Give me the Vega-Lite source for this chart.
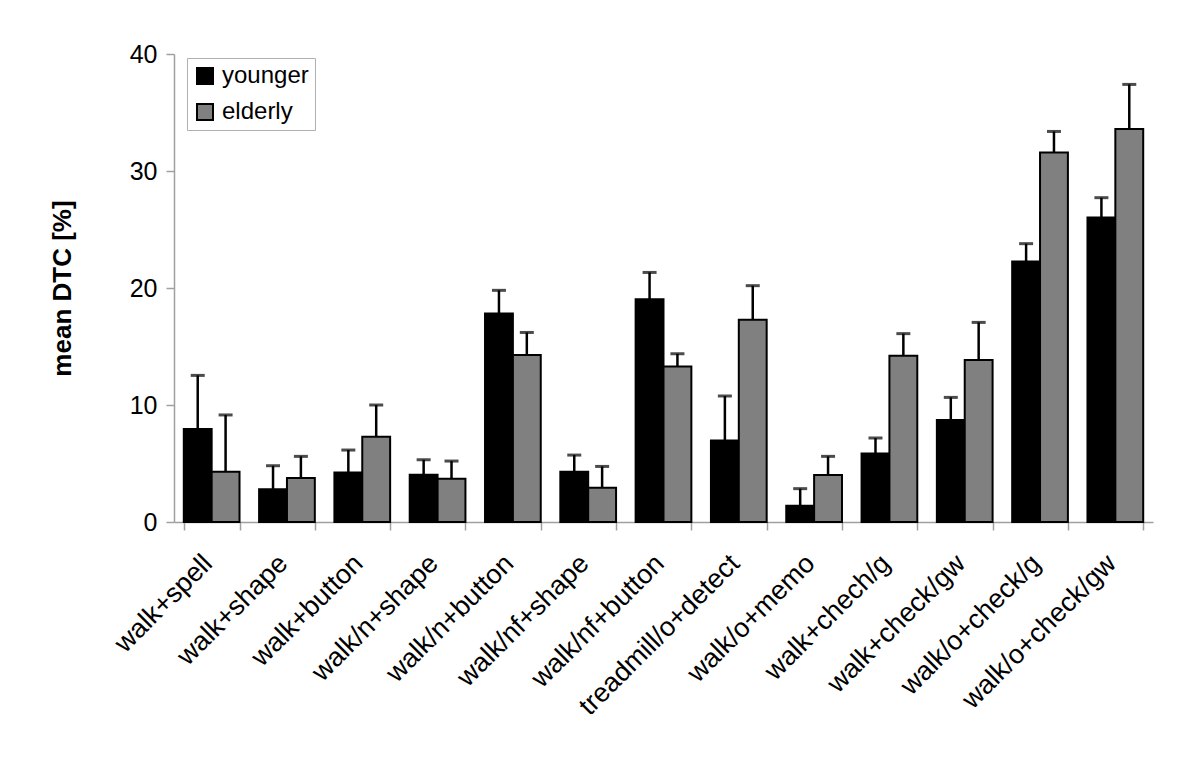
{
  "$schema": "https://vega.github.io/schema/vega-lite/v6.json",
  "width": 979,
  "height": 468,
  "autosize": "none",
  "padding": {"left": 174, "top": 54, "right": 47, "bottom": 241},
  "background": "white",
  "config": {"view": {"stroke": null}, "font": "Liberation Sans"},
  "data": {
    "values": [
      {"task": "walk+spell", "group": "younger", "value": 7.95, "err": 12.53},
      {"task": "walk+spell", "group": "elderly", "value": 4.3, "err": 9.15},
      {"task": "walk+shape", "group": "younger", "value": 2.79, "err": 4.81},
      {"task": "walk+shape", "group": "elderly", "value": 3.76, "err": 5.61},
      {"task": "walk+button", "group": "younger", "value": 4.24, "err": 6.15},
      {"task": "walk+button", "group": "elderly", "value": 7.29, "err": 10.0},
      {"task": "walk/n+shape", "group": "younger", "value": 4.04, "err": 5.32},
      {"task": "walk/n+shape", "group": "elderly", "value": 3.7, "err": 5.21},
      {"task": "walk/n+button", "group": "younger", "value": 17.83, "err": 19.8},
      {"task": "walk/n+button", "group": "elderly", "value": 14.27, "err": 16.2},
      {"task": "walk/nf+shape", "group": "younger", "value": 4.3, "err": 5.72},
      {"task": "walk/nf+shape", "group": "elderly", "value": 2.93, "err": 4.75},
      {"task": "walk/nf+button", "group": "younger", "value": 19.03, "err": 21.33},
      {"task": "walk/nf+button", "group": "elderly", "value": 13.3, "err": 14.38},
      {"task": "treadmill/o+detect", "group": "younger", "value": 6.97, "err": 10.77},
      {"task": "treadmill/o+detect", "group": "elderly", "value": 17.29, "err": 20.2},
      {"task": "walk/o+memo", "group": "younger", "value": 1.39, "err": 2.85},
      {"task": "walk/o+memo", "group": "elderly", "value": 4.02, "err": 5.61},
      {"task": "walk+chech/g", "group": "younger", "value": 5.86, "err": 7.18},
      {"task": "walk+chech/g", "group": "elderly", "value": 14.21, "err": 16.1},
      {"task": "walk+check/gw", "group": "younger", "value": 8.72, "err": 10.65},
      {"task": "walk+check/gw", "group": "elderly", "value": 13.85, "err": 17.06},
      {"task": "walk/o+check/g", "group": "younger", "value": 22.27, "err": 23.79},
      {"task": "walk/o+check/g", "group": "elderly", "value": 31.59, "err": 33.38},
      {"task": "walk/o+check/gw", "group": "younger", "value": 26.03, "err": 27.72},
      {"task": "walk/o+check/gw", "group": "elderly", "value": 33.59, "err": 37.4}
    ]
  },
  "encoding": {
    "x": {
      "field": "task", "type": "nominal", "sort": null,
      "scale": {"paddingInner": 0.26, "paddingOuter": 0.13},
      "axis": {
        "title": null, "domainColor": "#a0a0a0", "domainWidth": 1.5,
        "ticks": true, "tickBand": "extent", "tickColor": "#a0a0a0", "tickSize": 8, "tickWidth": 1.5,
        "labelAngle": -45, "labelAlign": "right", "labelBaseline": "middle",
        "labelFontSize": 27, "labelColor": "black", "labelPadding": 29, "labelOffset": -4,
        "labelOverlap": false, "labelLimit": 400
      }
    },
    "xOffset": {"field": "group", "type": "nominal", "sort": ["younger", "elderly"], "scale": {"paddingInner": 0, "paddingOuter": 0}},
    "y": {
      "field": "value", "type": "quantitative", "title": "mean DTC [%]",
      "scale": {"domain": [0, 40], "nice": false},
      "axis": {
        "values": [0, 10, 20, 30, 40], "grid": false, "domainColor": "#a0a0a0", "domainWidth": 1.5,
        "tickColor": "#a0a0a0", "tickSize": 8, "tickWidth": 1.5,
        "labelFontSize": 25, "labelColor": "black", "labelPadding": 9,
        "titleFontSize": 26, "titleFontWeight": "bold", "titleColor": "black",
        "titleX": -99, "titleY": 234, "titleAngle": -90, "titleBaseline": "bottom", "titleAlign": "center"
      }
    }
  },
  "layer": [
    {
      "mark": {"type": "bar", "stroke": "black", "strokeWidth": 2},
      "encoding": {
        "color": {
          "field": "group", "type": "nominal",
          "scale": {"domain": ["younger", "elderly"], "range": ["#000000", "#808080"]},
          "legend": {
            "title": null, "orient": "none", "legendX": 13, "legendY": 4, "direction": "vertical",
            "symbolType": "square", "symbolSize": 256, "symbolStrokeColor": "black", "symbolStrokeWidth": 2,
            "labelFontSize": 24, "labelColor": "black", "labelOffset": 5,
            "strokeColor": "#b0b0b0", "fillColor": "white", "padding": 6, "rowPadding": 12
          }
        }
      }
    },
    {
      "mark": {"type": "rule", "color": "black", "strokeWidth": 2.5},
      "encoding": {
        "y2": {"field": "err"}
      }
    },
    {
      "mark": {"type": "tick", "color": "black", "thickness": 3, "size": 14, "orient": "horizontal"},
      "encoding": {
        "y": {"field": "err", "type": "quantitative", "title": "mean DTC [%]"}
      }
    }
  ]
}
